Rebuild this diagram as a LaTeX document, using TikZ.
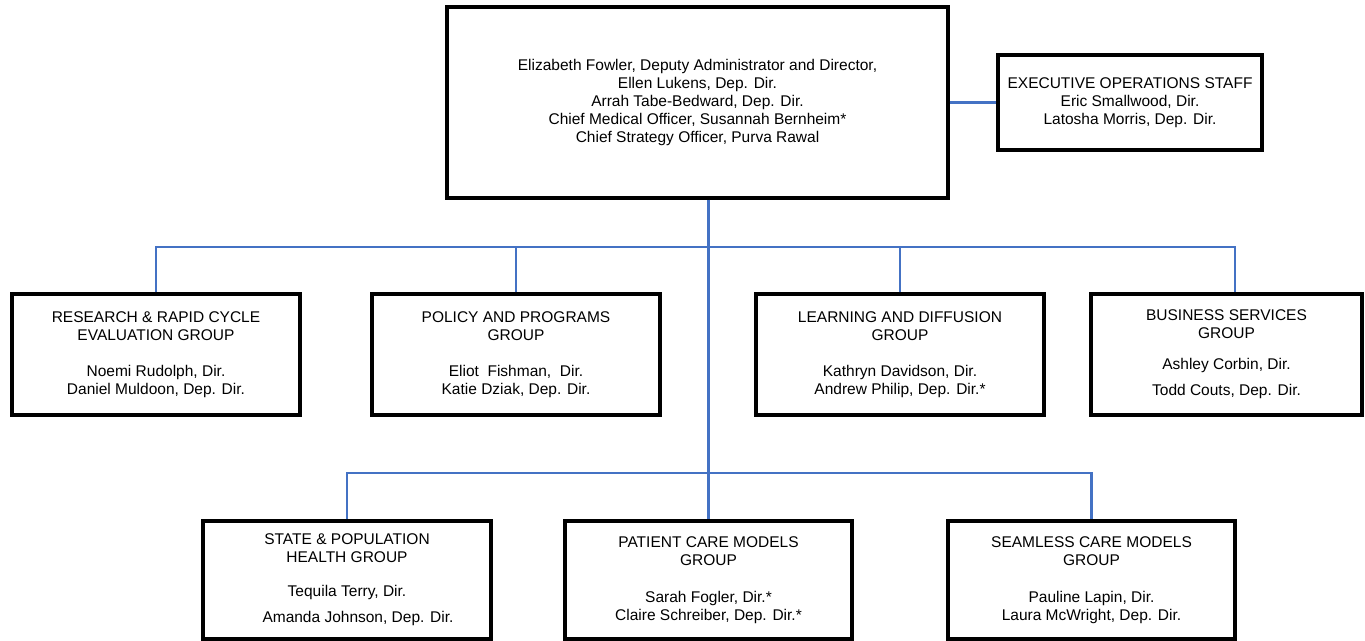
\documentclass[tikz,border=0pt]{standalone}
\usepackage{fontspec}
\setmainfont{Liberation Sans}
\usepackage{xcolor}
\usetikzlibrary{positioning}
\definecolor{lineblue}{RGB}{68,114,196}

\begin{document}
\begin{tikzpicture}[x=1pt,y=-1pt,
  box/.style={draw=black, line width=3.2pt, align=center, inner sep=0pt,
    font=\fontsize{15.5}{18}\selectfont},
  grp/.style={box, minimum width=288pt, minimum height=121pt},
  subgrp/.style={box, minimum width=287pt, minimum height=118pt},
  link/.style={draw=lineblue, line width=2.9pt}]%

\def\ya{354.5} % middle row
\def\yb{580}   % bottom row
\def\yhub{247}
\def\yhubb{473}

\useasboundingbox (0,0) rectangle (1365,640);

%office of the director
\node[box, minimum width=501pt, minimum height=191pt] (lead) at (697.5,102.5)
  {Elizabeth Fowler, Deputy Administrator and Director,\\
   Ellen Lukens, Dep. Dir.\\
   Arrah Tabe-Bedward, Dep. Dir.\\
   Chief Medical Officer, Susannah Bernheim*\\
   Chief Strategy Officer, Purva Rawal};
\node[box, minimum width=264pt, minimum height=95pt] (exec) at (1130,102.5)
  {EXECUTIVE OPERATIONS STAFF\\ Eric Smallwood, Dir.\\ Latosha Morris, Dep. Dir.};

%groups, middle row
\node[grp] (research) at (156,\ya)
  {RESEARCH \& RAPID CYCLE\\ EVALUATION GROUP\\[18pt]
   Noemi Rudolph, Dir.\\ Daniel Muldoon, Dep. Dir.};
\node[grp] (policy) at (516,\ya)
  {POLICY AND PROGRAMS\\ GROUP\\[18pt]
   Eliot\ \ Fishman,\ \ Dir.\\ Katie Dziak, Dep. Dir.};
\node[grp] (learning) at (900,\ya)
  {LEARNING AND DIFFUSION\\ GROUP\\[18pt]
   Kathryn Davidson, Dir.\\ Andrew Philip, Dep. Dir.*};
\node[grp, minimum width=271pt] (business) at (1226.5,\ya)
  {BUSINESS SERVICES\\ GROUP\\[13pt]
   Ashley Corbin, Dir.\\[8pt] Todd Couts, Dep. Dir.};

%groups, bottom row
\node[subgrp, minimum width=288pt] (state) at (347,\yb)
  {STATE \& POPULATION\\ HEALTH GROUP\\[16pt]
   Tequila Terry, Dir.\hspace*{22pt}\\[8pt] \hspace*{22pt}Amanda Johnson, Dep. Dir.};
\node[subgrp] (patient) at (708.5,\yb)
  {PATIENT CARE MODELS\\ GROUP\\[19pt]
   Sarah Fogler, Dir.*\\ Claire Schreiber, Dep. Dir.*};
\node[subgrp] (seamless) at (1091.5,\yb)
  {SEAMLESS CARE MODELS\\ GROUP\\[19pt]
   Pauline Lapin, Dir.\\ Laura McWright, Dep. Dir.};

%connectors
\coordinate (hub) at (patient.north |- 0,\yhub);
\coordinate (hubb) at (patient.north |- 0,\yhubb);
\draw[link] (lead.east) -- (exec.west);
\draw[link] (lead.south -| hub) -- (hub);
\draw[link] (research.north) |- (hub) -| ([xshift=8.5pt]business.north);
\draw[link] (policy.north) -- (policy.north |- hub);
\draw[link] (learning.north) -- (learning.north |- hub);
\draw[link] (hub) -- (patient.north);
\draw[link] (state.north) |- (hubb) -| (seamless.north);

\end{tikzpicture}
\end{document}
